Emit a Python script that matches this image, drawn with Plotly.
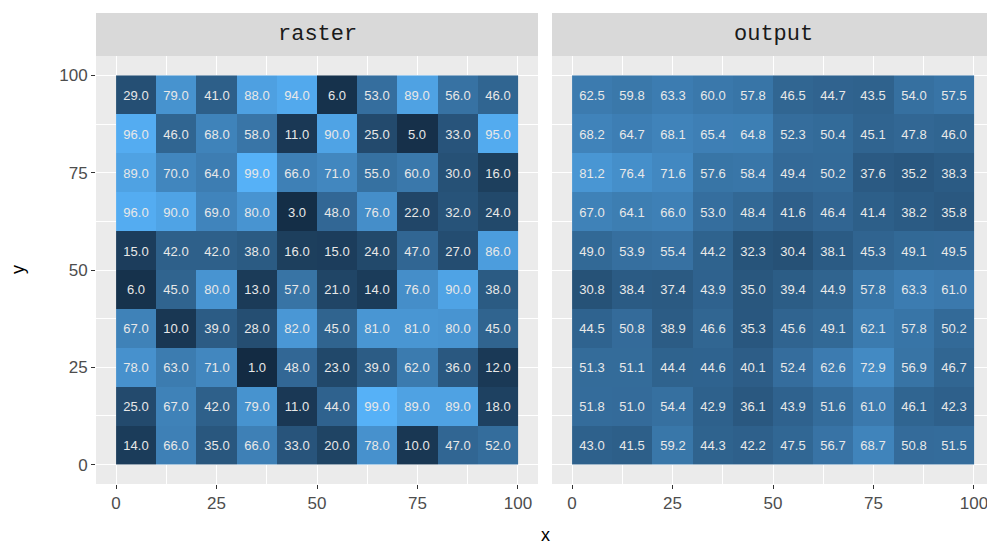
import plotly.graph_objects as go

# ---- data (rows listed top (y=95) to bottom (y=5)) ----
x_centers = [5, 15, 25, 35, 45, 55, 65, 75, 85, 95]
y_centers_top_down = [95, 85, 75, 65, 55, 45, 35, 25, 15, 5]
panel_names = ["raster", "output"]
tick_vals = [0, 25, 50, 75, 100]
tick_text = ["0", "25", "50", "75", "100"]

raster_rows = [
    [29, 79, 41, 88, 94, 6, 53, 89, 56, 46],
    [96, 46, 68, 58, 11, 90, 25, 5, 33, 95],
    [89, 70, 64, 99, 66, 71, 55, 60, 30, 16],
    [96, 90, 69, 80, 3, 48, 76, 22, 32, 24],
    [15, 42, 42, 38, 16, 15, 24, 47, 27, 86],
    [6, 45, 80, 13, 57, 21, 14, 76, 90, 38],
    [67, 10, 39, 28, 82, 45, 81, 81, 80, 45],
    [78, 63, 71, 1, 48, 23, 39, 62, 36, 12],
    [25, 67, 42, 79, 11, 44, 99, 89, 89, 18],
    [14, 66, 35, 66, 33, 20, 78, 10, 47, 52],
]

output_rows = [
    [62.5, 59.8, 63.3, 60.0, 57.8, 46.5, 44.7, 43.5, 54.0, 57.5],
    [68.2, 64.7, 68.1, 65.4, 64.8, 52.3, 50.4, 45.1, 47.8, 46.0],
    [81.2, 76.4, 71.6, 57.6, 58.4, 49.4, 50.2, 37.6, 35.2, 38.3],
    [67.0, 64.1, 66.0, 53.0, 48.4, 41.6, 46.4, 41.4, 38.2, 35.8],
    [49.0, 53.9, 55.4, 44.2, 32.3, 30.4, 38.1, 45.3, 49.1, 49.5],
    [30.8, 38.4, 37.4, 43.9, 35.0, 39.4, 44.9, 57.8, 63.3, 61.0],
    [44.5, 50.8, 38.9, 46.6, 35.3, 45.6, 49.1, 62.1, 57.8, 50.2],
    [51.3, 51.1, 44.4, 44.6, 40.1, 52.4, 62.6, 72.9, 56.9, 46.7],
    [51.8, 51.0, 54.4, 42.9, 36.1, 43.9, 51.6, 61.0, 46.1, 42.3],
    [43.0, 41.5, 59.2, 44.3, 42.2, 47.5, 56.7, 68.7, 50.8, 51.5],
]

# ---- style ----
OFF = 8  # page body margin offset
W, H = 995 - OFF, 545 - OFF
ML, MR, MT, MB = 96 - OFF, 0, 56 - OFF, 61
plot_w = W - ML - MR
plot_h = H - MT - MB
panel_w = 442
gap = 14
dom1 = [0, panel_w / plot_w]
dom2 = [(panel_w + gap) / plot_w, (panel_w * 2 + gap) / plot_w]
strip_h = 43 / plot_h

colorscale = [
    [0.0, "#132B43"],
    [0.25, "#234B6E"],
    [0.5, "#336A98"],
    [0.75, "#448CC6"],
    [1.0, "#56B1F7"],
]

fig = go.Figure()
for i, rows in enumerate([raster_rows, output_rows]):
    fig.add_trace(go.Heatmap(
        x=x_centers,
        y=y_centers_top_down,
        z=rows,
        coloraxis="coloraxis",
        texttemplate="%{z:.1f}",
        textfont=dict(family="Liberation Sans, Arial, sans-serif", size=13, color="#E8E8E8"),
        xaxis="x" if i == 0 else "x2",
        yaxis="y" if i == 0 else "y2",
        xgap=0, ygap=0,
        hoverinfo="skip",
    ))

axis_common = dict(
    range=[-5, 105],
    tickvals=tick_vals,
    ticktext=tick_text,
    ticklen=4,
    tickwidth=1,
    tickcolor="#333333",
    tickfont=dict(family="Liberation Sans, Arial, sans-serif", size=17, color="#4D4D4D"),
    showgrid=True,
    gridcolor="white",
    gridwidth=1.2,
    zeroline=False,
    showline=False,
    automargin=False,
    minor=dict(showgrid=True, gridcolor="white", gridwidth=0.6, dtick=12.5, tick0=-12.5),
    fixedrange=True,
)

fig.update_layout(
    width=W, height=H,
    margin=dict(l=ML, r=MR, t=MT, b=MB, autoexpand=False),
    paper_bgcolor="white",
    plot_bgcolor="#EBEBEB",
    showlegend=False,
    coloraxis=dict(colorscale=colorscale, cmin=1, cmax=99, showscale=False),
    xaxis=dict(domain=dom1, anchor="y", ticks="outside", **axis_common),
    yaxis=dict(domain=[0, 1], anchor="x", ticks="outside", **axis_common),
    xaxis2=dict(domain=dom2, anchor="y2", ticks="outside", **axis_common),
    yaxis2=dict(domain=[0, 1], anchor="x2", matches="y", showticklabels=False,
                ticks="", **axis_common),
)

# strips
for i, (name, dom) in enumerate(zip(panel_names, [dom1, dom2])):
    fig.add_shape(type="rect", xref="paper", yref="paper",
                  x0=dom[0], x1=dom[1], y0=1.0, y1=1.0 + strip_h,
                  fillcolor="#D9D9D9", line=dict(width=0), layer="below")
    fig.add_annotation(text=name, xref="paper", yref="paper",
                       x=(dom[0] + dom[1]) / 2, y=1.0 + strip_h / 2,
                       showarrow=False, xanchor="center", yanchor="middle",
                       font=dict(family="Liberation Mono, Courier New, monospace", size=22, color="#1A1A1A"))

# axis titles
fig.add_annotation(text="x", xref="paper", yref="paper",
                   x=(dom1[1] + dom2[0]) / 2, y=-(535 - OFF - (MT + plot_h)) / plot_h,
                   showarrow=False, xanchor="center", yanchor="middle",
                   font=dict(family="Liberation Sans, Arial, sans-serif", size=18, color="#000000"))
fig.add_annotation(text="y", xref="paper", yref="paper",
                   x=-(ML - (18 - OFF)) / plot_w, y=0.5, textangle=-90,
                   showarrow=False, xanchor="center", yanchor="middle",
                   font=dict(family="Liberation Sans, Arial, sans-serif", size=18, color="#000000"))

fig.write_html("out.html")
